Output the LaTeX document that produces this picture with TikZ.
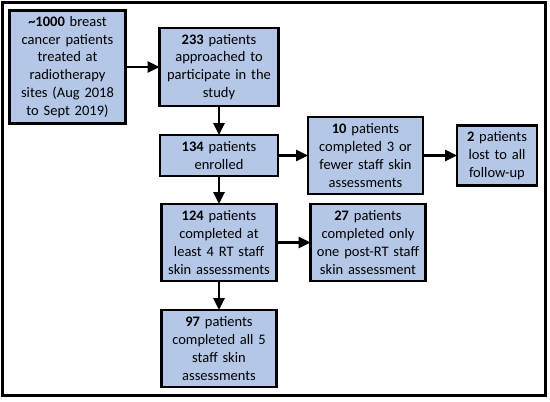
\documentclass[tikz,border=0pt]{standalone}
\usepackage{fontspec}
\setmainfont{Carlito}
\usepackage{tikz}
\usepackage{xcolor}
\usetikzlibrary{positioning,arrows.meta}
\definecolor{boxblue}{HTML}{B4C7E7}

\begin{document}
\begin{tikzpicture}
[
x=1pt, y=1pt,
box-a/.style={rectangle, draw=black, line width=2.4pt, fill=boxblue, outer sep=0pt,
  inner sep=2pt, align=center, font=\fontsize{14.5}{17.8}\selectfont},
arr-a/.style={line width=2.6pt, -{Triangle[length=12pt, width=11pt]}}
]
\useasboundingbox (0,0) rectangle (550,-402);
\draw[line width=3pt] (2.5,-2.5) rectangle (545,-395.5);

\node (pat-1000)  [box-a, minimum width=116pt, minimum height=113pt, text width=112pt]
  at (67.5,-67) {\textbf{\textasciitilde1000} breast\\cancer patients\\treated at\\radiotherapy\\sites (Aug 2018\\to Sept 2019)};
\node (pat-233)   [box-a, minimum width=119pt, minimum height=78pt, text width=115pt, right = 34pt of pat-1000]
  {\textbf{233} patients\\approached to\\participate in the\\study};
\node (pat-134)   [box-a, minimum width=118pt, minimum height=41pt, text width=114pt, below = 29pt of pat-233]
  {\textbf{134} patients\\enrolled};
\node (pat-124)   [box-a, minimum width=115pt, minimum height=77pt, text width=111pt, below = 28pt of pat-134]
  {\textbf{124} patients\\completed at\\least 4 RT staff\\skin assessments};
\node (pat-97)    [box-a, minimum width=115pt, minimum height=77pt, text width=111pt, below = 29pt of pat-124]
  {\textbf{97} patients\\completed all 5\\staff skin\\assessments};
\node (pat-10)    [box-a, minimum width=115pt, minimum height=77pt, text width=111pt, right = 30pt of pat-134]
  {\textbf{10} patients\\completed 3 or\\fewer staff skin\\assessments};
\node (pat-2)     [box-a, minimum width=80pt, minimum height=60pt, text width=76pt, right = 34pt of pat-10]
  {\textbf{2} patients\\lost to all\\follow-up};
\node (pat-27)    [box-a, minimum width=115pt, minimum height=77pt, text width=111pt, right = 34pt of pat-124]
  {\textbf{27} patients\\completed only\\one post-RT staff\\skin assessment};

\draw[arr-a] (pat-1000) -- (pat-233);
\draw[arr-a] (pat-233) -- (pat-134);
\draw[arr-a] (pat-134) -- (pat-124);
\draw[arr-a] (pat-124) -- (pat-97);
\draw[arr-a] (pat-134) -- (pat-10);
\draw[arr-a] (pat-10) -- (pat-2);
\draw[arr-a] (pat-124) -- (pat-27);
\end{tikzpicture}
\end{document}
